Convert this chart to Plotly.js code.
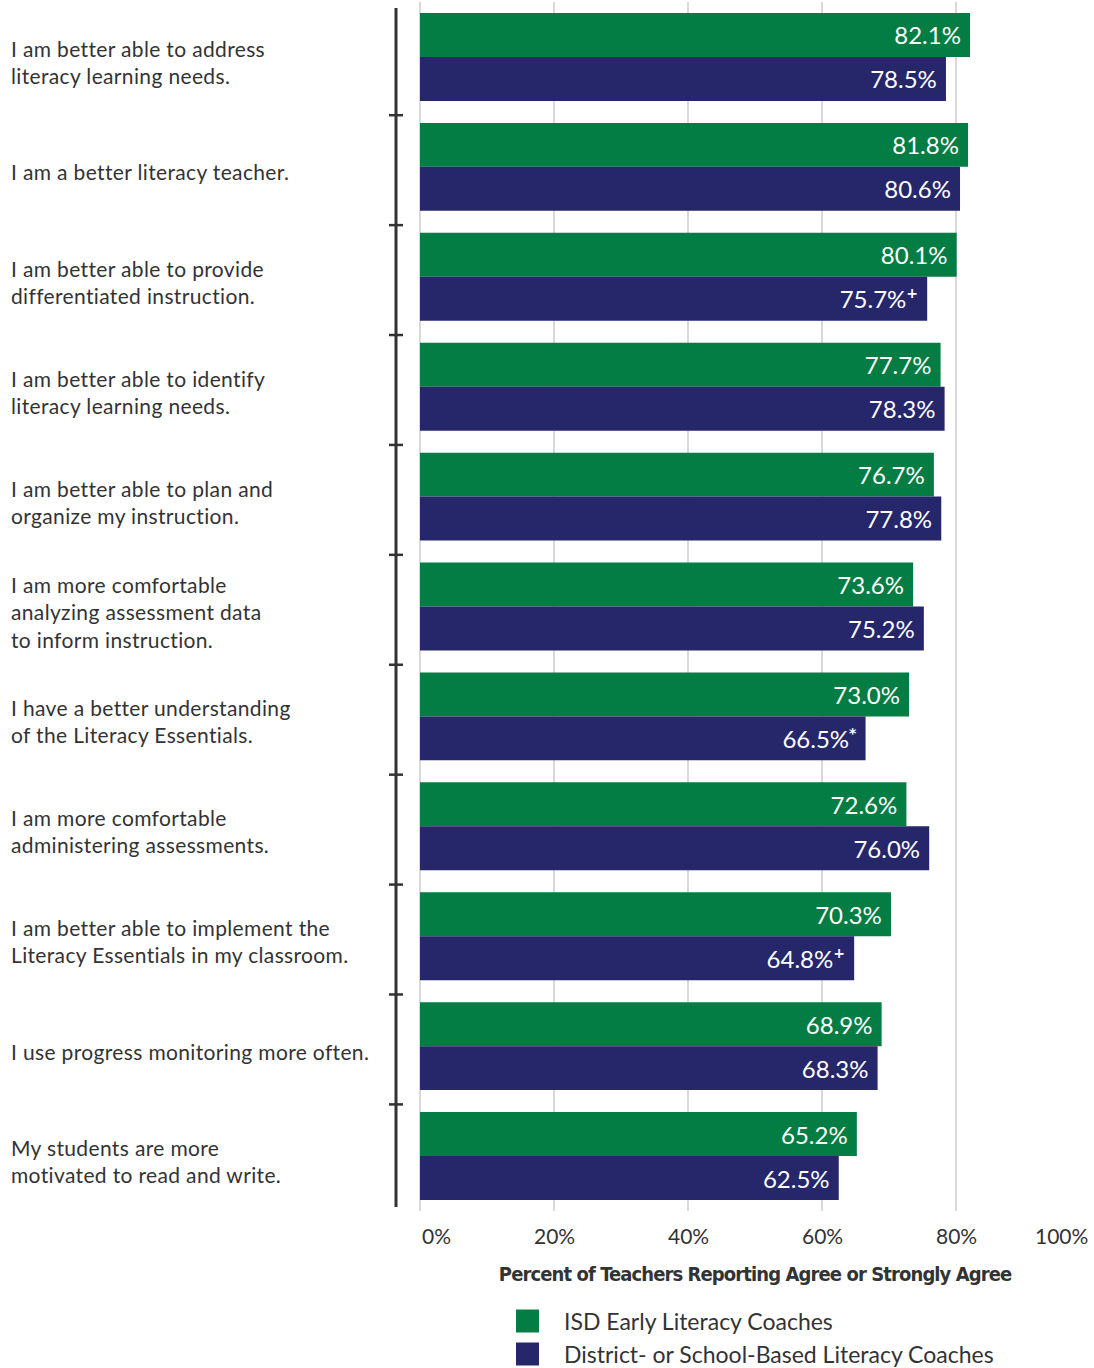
<!DOCTYPE html>
<html>
<head>
<meta charset="utf-8">
<script src="https://cdn.plot.ly/plotly-3.0.1.min.js"></script>
<style>
  html, body { margin: 0; padding: 0; background: #fff; }
  #chart { width: 1094px; height: 1368px; }
  g.annotation[data-index="0"] text { letter-spacing: -0.9px; }
  g.annotation.catlabel text { letter-spacing: 0.35px; }
</style>
</head>
<body>
<div id="chart"></div>
<script>
// ---- Data ----
const categories = [
  "I am better able to address<br>literacy learning needs.",
  "I am a better literacy teacher.",
  "I am better able to provide<br>differentiated instruction.",
  "I am better able to identify<br>literacy learning needs.",
  "I am better able to plan and<br>organize my instruction.",
  "I am more comfortable<br>analyzing assessment data<br>to inform instruction.",
  "I have a better understanding<br>of the Literacy Essentials.",
  "I am more comfortable<br>administering assessments.",
  "I am better able to implement the<br>Literacy Essentials in my classroom.",
  "I use progress monitoring more often.",
  "My students are more<br>motivated to read and write."
];
const isdValues = [82.1, 81.8, 80.1, 77.7, 76.7, 73.6, 73.0, 72.6, 70.3, 68.9, 65.2];
const districtValues = [78.5, 80.6, 75.7, 78.3, 77.8, 75.2, 66.5, 76.0, 64.8, 68.3, 62.5];
const districtMarks = ["", "", "+", "", "", "", "*", "", "+", "", ""];
const seriesNames = ["ISD Early Literacy Coaches", "District- or School-Based Literacy Coaches"];
const tickValues = [0, 20, 40, 60, 80, 100];
const tickLabels = ["0%", "20%", "40%", "60%", "80%", "100%"];
const axisTitle = "Percent of Teachers Reporting Agree or Strongly Agree";

// ---- Styles ----
const GREEN = "#037d44";
const NAVY = "#26266b";
const TEXT = "#333333";
const FONT = "Lato, 'Open Sans', sans-serif";
const NBSP = "\u00a0";

const fmt = (v, m) => v.toFixed(1) + "%" +
  (m ? "<sup><span style=\"font-family:DejaVu Sans;font-weight:bold;font-size:14px\">" + m + "</span></sup>" : "") + NBSP;

const traces = [
  {
    type: "bar", orientation: "h", name: seriesNames[0],
    x: isdValues, y: categories,
    marker: { color: GREEN },
    text: isdValues.map(v => fmt(v, "")),
    textposition: "inside", insidetextanchor: "end",
    textfont: { color: "#ffffff", size: 24, family: FONT },
    hoverinfo: "x", showlegend: false
  },
  {
    type: "bar", orientation: "h", name: seriesNames[1],
    x: districtValues, y: categories,
    marker: { color: NAVY },
    text: districtValues.map((v, i) => fmt(v, districtMarks[i])),
    textposition: "inside", insidetextanchor: "end",
    textfont: { color: "#ffffff", size: 24, family: FONT },
    hoverinfo: "x", showlegend: false
  }
];

const W = 670, H = 1209; // plot area size in px
const px2x = px => (px - 420) / W;
const py2y = py => (1211 - py) / H;

const annotations = [];
// axis title (index 0)
annotations.push({
  xref: "paper", yref: "paper", x: 0.5, y: py2y(1274),
  xanchor: "center", yanchor: "middle", text: "<b>" + axisTitle + "</b>", showarrow: false,
  font: { family: "'DejaVu Sans Condensed', 'Liberation Sans Narrow', Lato, sans-serif", size: 20, color: TEXT }
});
// Category labels
const catStart = annotations.length;
categories.forEach((c, i) => {
  annotations.push({
    xref: "paper", yref: "y", x: px2x(9), y: c,
    xanchor: "left", yanchor: "middle", align: "left",
    text: c, showarrow: false, yshift: -5,
    font: { family: FONT, size: 21, color: TEXT }
  });
});
const catEnd = annotations.length;
// x tick labels
tickValues.forEach((v, i) => {
  annotations.push({
    xref: "x", yref: "paper", x: v, y: 0, yshift: -24,
    xanchor: i === 0 ? "left" : (i === tickValues.length - 1 ? "right" : "center"),
    yanchor: "middle", text: tickLabels[i], showarrow: false,
    font: { family: FONT, size: 21, color: TEXT }
  });
});
// legend
const legendColors = [GREEN, NAVY];
const legendRows = [1321, 1354];
const shapes = [];
seriesNames.forEach((n, i) => {
  shapes.push({
    type: "rect", xref: "paper", yref: "paper",
    x0: px2x(516), x1: px2x(539), y0: py2y(legendRows[i] - 11.5), y1: py2y(legendRows[i] + 11.5),
    fillcolor: legendColors[i], line: { width: 0 }
  });
  annotations.push({
    xref: "paper", yref: "paper", x: px2x(562), y: py2y(legendRows[i]),
    xanchor: "left", yanchor: "middle", text: n, showarrow: false,
    font: { family: FONT, size: 23, color: TEXT }
  });
});
// left axis line with crossing ticks
shapes.push({
  type: "line", xref: "paper", yref: "paper",
  x0: px2x(396), x1: px2x(396), y0: py2y(1207), y1: py2y(8),
  line: { color: TEXT, width: 3 }
});
for (let i = 0; i < categories.length - 1; i++) {
  shapes.push({
    type: "line", xref: "paper", yref: "y",
    x0: px2x(389), x1: px2x(403), y0: i + 0.53, y1: i + 0.53,
    line: { color: TEXT, width: 2.5 }
  });
}

const layout = {
  width: 1094, height: 1368,
  margin: { l: 420, r: 4, t: 2, b: 157 },
  paper_bgcolor: "#ffffff", plot_bgcolor: "#ffffff",
  barmode: "group", bargap: 0.2, bargroupgap: 0,
  font: { family: FONT, color: TEXT },
  xaxis: {
    range: [0, 100], tickvals: tickValues, showticklabels: false,
    showgrid: true, gridcolor: "#d9d9d9", gridwidth: 1.5,
    zeroline: true, zerolinecolor: "#d9d9d9", zerolinewidth: 1.5,
    showline: false, ticks: "", fixedrange: true
  },
  yaxis: {
    type: "category", categoryorder: "array", categoryarray: categories,
    range: [categories.length - 0.5, -0.5],
    showticklabels: false, showgrid: false, zeroline: false, showline: false, ticks: "",
    fixedrange: true
  },
  annotations: annotations,
  shapes: shapes,
  showlegend: false
};

Plotly.newPlot("chart", traces, layout, { displayModeBar: false, staticPlot: true }).then(gd => {
  gd.querySelectorAll("g.annotation").forEach(g => {
    const idx = +g.getAttribute("data-index");
    if (idx >= catStart && idx < catEnd) g.classList.add("catlabel");
  });
});
</script>
</body>
</html>
